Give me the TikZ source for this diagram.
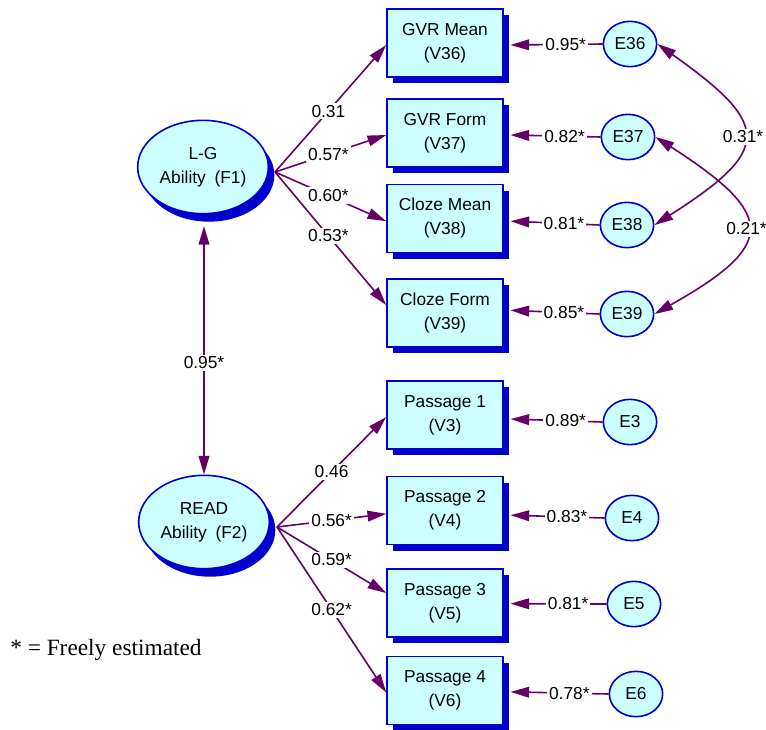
\documentclass[tikz,border=0pt]{standalone}
\usepackage{fontspec}
\setmainfont{Liberation Serif}
\setsansfont{Liberation Sans}
\usetikzlibrary{arrows.meta,shadows,shapes.geometric}
\definecolor{boxfill}{HTML}{CCFFFF}
\definecolor{boxline}{HTML}{0000CC}
\definecolor{arc}{HTML}{660066}
\begin{document}
\begin{tikzpicture}[x=0.75pt,y=-0.75pt,
  var/.style={rectangle, draw=boxline, line width=1.2pt, fill=boxfill,
    minimum width=87pt, minimum height=51pt, inner sep=0pt, align=center,
    font=\sffamily\fontsize{13}{18}\selectfont,
    drop shadow={shadow xshift=4.5pt, shadow yshift=-4.5pt, fill=boxline, opacity=1}},
  fac/.style={ellipse, draw=boxline, line width=1.2pt, fill=boxfill,
    minimum width=98pt, minimum height=70pt, inner sep=0pt, align=center,
    font=\sffamily\fontsize{13}{18}\selectfont,
    drop shadow={shadow xshift=4.5pt, shadow yshift=-6pt, fill=boxline, opacity=1}},
  err/.style={ellipse, draw=boxline, line width=1.2pt, fill=boxfill,
    minimum width=40pt, minimum height=34pt, inner sep=0pt,
    font=\sffamily\fontsize{13}{15}\selectfont},
  arr/.style={draw=arc, line width=1.2pt, -{Triangle[length=14pt,width=8pt]}},
  arrb/.style={draw=arc, line width=1.2pt, {Triangle[length=14pt,width=8pt]}-{Triangle[length=14pt,width=8pt]}},
  lbl/.style={fill=white, inner sep=1.5pt, text=black,
    font=\sffamily\fontsize{13}{15}\selectfont}]
\useasboundingbox (0,0) rectangle (766,729);
\clip (0,0) rectangle (766,729);

% factors
\node[fac] (F1) at (203,167) {L-G\\Ability\enspace(F1)};
\node[fac] (F2) at (204,522) {READ\\Ability\enspace(F2)};

% measured variables
\node[var] (V36) at (445,43)    {GVR Mean\\(V36)};
\node[var] (V37) at (445,133)   {GVR Form\\(V37)};
\node[var] (V38) at (445,218.5) {Cloze Mean\\(V38)};
\node[var] (V39) at (445,313)   {Cloze Form\\(V39)};
\node[var] (V3)  at (445,415)   {Passage 1\\(V3)};
\node[var] (V4)  at (445,510.5) {Passage 2\\(V4)};
\node[var] (V5)  at (445,603)   {Passage 3\\(V5)};
\node[var] (V6)  at (445,690.5) {Passage 4\\(V6)};

% errors
\node[err] (E36) at (630,44)  {E36};
\node[err] (E37) at (628,137) {E37};
\node[err] (E38) at (627,225) {E38};
\node[err] (E39) at (627,314) {E39};
\node[err] (E3)  at (630,422) {E3};
\node[err] (E4)  at (632,518) {E4};
\node[err] (E5)  at (634,604) {E5};
\node[err] (E6)  at (636,694) {E6};

\coordinate (f1o) at (275,172);
\coordinate (f2o) at (277,527);
\coordinate (f1b) at (204,226);

% loadings
\draw[arr] (f1o) -- node[lbl,pos=0.48]{0.31}  ([yshift=-1.5pt]V36.west);
\draw[arr] (f1o) -- node[lbl,pos=0.48]{0.57*} ([yshift=-1.5pt]V37.west);
\draw[arr] (f1o) -- node[lbl,pos=0.48]{0.60*} ([yshift=-2pt]V38.west);
\draw[arr] (f1o) -- node[lbl,pos=0.48]{0.53*} ([yshift=6pt]V39.west);
\draw[arr] (f2o) -- node[lbl,pos=0.5]{0.46}  ([yshift=-1.5pt]V3.west);
\draw[arr] (f2o) -- node[lbl,pos=0.5]{0.56*} ([yshift=-2.5pt]V4.west);
\draw[arr] (f2o) -- node[lbl,pos=0.5]{0.59*} ([yshift=7.5pt]V5.west);
\draw[arr] (f2o) -- node[lbl,pos=0.5]{0.62*} ([yshift=-1.5pt]V6.west);

% factor covariance
\draw[arrb] (f1b) -- node[lbl,pos=0.55]{0.95*} (F2.north);

% error paths
\draw[arr] (E36.west) -- node[lbl,pos=0.4]{0.95*} ([xshift=5pt,yshift=-1.5pt]V36.east);
\draw[arr] (E37.west) -- node[lbl,pos=0.4]{0.82*} ([xshift=5pt,yshift=-1.5pt]V37.east);
\draw[arr] (E38.west) -- node[lbl,pos=0.4]{0.81*} ([xshift=5pt,yshift=-2pt]V38.east);
\draw[arr] (E39.west) -- node[lbl,pos=0.4]{0.85*} ([xshift=5pt,yshift=2pt]V39.east);
\draw[arr] (E3.west)  -- node[lbl,pos=0.4]{0.89*} ([xshift=5pt,yshift=-3pt]V3.east);
\draw[arr] (E4.west)  -- node[lbl,pos=0.4]{0.83*} ([xshift=5pt,yshift=-3.5pt]V4.east);
\draw[arr] (E5.west)  -- node[lbl,pos=0.4]{0.81*} ([xshift=5pt,yshift=-0.5pt]V5.east);
\draw[arr] (E6.west)  -- node[lbl,pos=0.4]{0.78*} ([xshift=5pt,yshift=-1pt]V6.east);

% error covariances
\draw[arrb] (E36.east) .. controls (772,125) and (772,150) .. node[lbl,pos=0.5]{0.31*} (E38.east);
\draw[arrb] (E37.east) .. controls (777,215) and (777,245) .. node[lbl,pos=0.5]{0.21*} (E39.east);

% note
\node[anchor=base west, inner sep=0pt, font=\rmfamily\fontsize{17.5}{20}\selectfont] (note) at (10,655) {* = Freely estimated};
\end{tikzpicture}
\end{document}
